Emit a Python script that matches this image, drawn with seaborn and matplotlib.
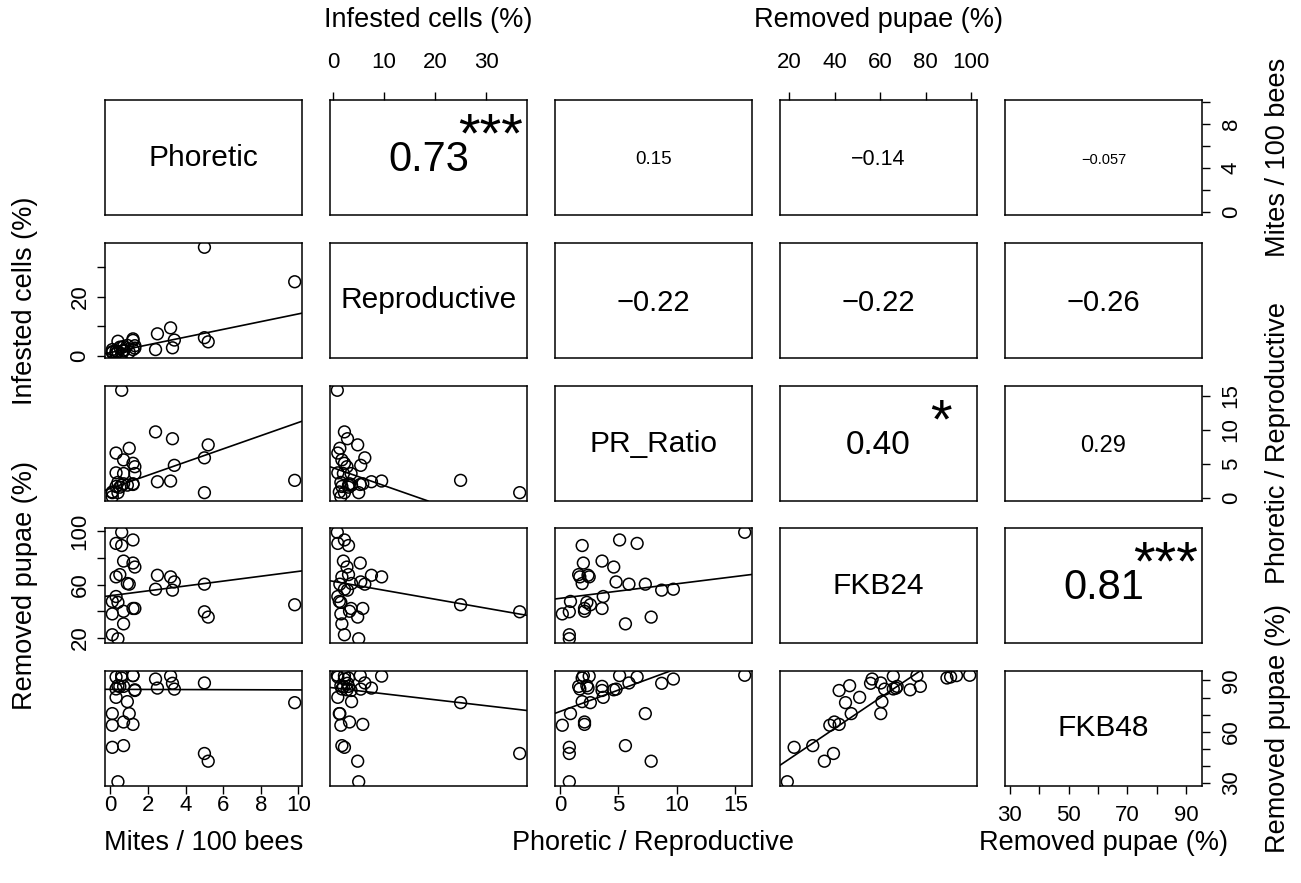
import numpy as np
import pandas as pd
import seaborn as sns
import matplotlib.pyplot as plt

# values (one entry per colony)
mites = [0.6, 9.8, 5.0, 5.2, 5.0, 2.4, 3.3, 3.2, 2.5, 3.4,
         1.2, 0.3, 0.6, 0.7, 1.2, 1.3, 0.5, 0.3, 0.9, 1.0,
         0.3, 0.1, 0.4, 1.2, 1.3, 0.7, 0.1, 0.7, 0.1, 0.4]
infested = [0.8, 25.0, 36.6, 4.8, 6.2, 2.2, 2.8, 9.5, 7.5, 5.4,
            2.2, 0.9, 3.0, 2.0, 5.3, 2.7, 3.0, 1.7, 3.6, 1.3,
            0.9, 1.2, 1.5, 5.8, 3.5, 3.2, 1.5, 1.7, 2.2, 5.0]
pr_ratio = [15.8, 2.6, 0.8, 7.8, 5.9, 9.7, 8.7, 2.5, 2.4, 4.8,
            5.1, 6.6, 1.9, 3.6, 2.0, 4.6, 1.6, 1.7, 1.9, 7.3,
            3.7, 0.9, 2.3, 2.1, 3.6, 2.1, 0.2, 5.6, 0.8, 0.8]
fkb24 = [99.4, 44.8, 39.5, 35.5, 60.3, 56.5, 55.8, 65.8, 67.0, 62.0,
         93.6, 91.0, 89.4, 77.7, 76.2, 73.2, 67.5, 65.8, 60.8, 60.3,
         51.0, 47.3, 46.6, 42.0, 42.0, 39.9, 37.9, 30.4, 22.2, 19.2]
fkb48 = [93.0, 77.0, 47.3, 42.8, 88.5, 90.8, 88.3, 92.5, 85.5, 84.9,
         92.8, 92.0, 91.4, 86.5, 92.8, 84.5, 86.5, 85.0, 77.6, 70.6,
         80.1, 70.6, 86.9, 64.3, 84.1, 65.7, 63.8, 51.9, 50.9, 30.8]

var_names = ['Phoretic', 'Reproductive', 'PR_Ratio', 'FKB24', 'FKB48']
axis_titles = ['Mites / 100 bees', 'Infested cells (%)', 'Phoretic / Reproductive',
               'Removed pupae (%)', 'Removed pupae (%)']

tick_values = [[0, 2, 4, 6, 8, 10], [0, 10, 20, 30], [0, 5, 10, 15],
               [20, 40, 60, 80, 100], [30, 40, 50, 60, 70, 80, 90]]
xtick_labels = [['0', '2', '4', '6', '8', '10'], ['0', '10', '20', '30'],
                ['0', '5', '10', '15'], ['20', '40', '60', '80', '100'],
                ['30', '', '50', '', '70', '', '90']]
ytick_labels = [['0', '', '4', '', '8', ''], ['0', '', '20', ''],
                ['0', '5', '10', '15'], ['20', '', '60', '', '100'],
                ['30', '', '', '60', '', '', '90']]

# upper panels: (row, col) order (0,1) (0,2) (0,3) (0,4) (1,2) (1,3) (1,4) (2,3) (2,4) (3,4)
cor_labels = ['0.73', '0.15', '\u22120.14', '\u22120.057', '\u22120.22',
              '\u22120.22', '\u22120.26', '0.40', '0.29', '0.81']
cor_stars = ['***', '', '', '', '', '', '', '*', '', '***']
cor_sizes = [30, 13.5, 15.5, 10.5, 21, 21, 21, 24, 17, 30]

df = pd.DataFrame({'Phoretic': mites, 'Reproductive': infested, 'PR_Ratio': pr_ratio,
                   'FKB24': fkb24, 'FKB48': fkb48})


def resistant_line(x, y, iters=1):
    # Tukey resistant line, as R's line()
    x = np.asarray(x, float)
    y = np.asarray(y, float)
    xs = np.sort(x)
    n = len(x)

    def q(p):
        return 0.5 * (xs[int(np.floor((n - 1) * p))] + xs[int(np.ceil((n - 1) * p))])

    left = x <= q(1 / 3)
    right = x >= q(2 / 3)
    x1, x2 = np.median(x[left]), np.median(x[right])
    slope = 0.0
    r = y.copy()
    for _ in range(iters):
        slope += (np.median(r[right]) - np.median(r[left])) / (x2 - x1)
        r = y - slope * x
    return slope, np.median(r)


sns.set_theme(style='white')
plt.rcParams['font.family'] = ['Liberation Sans', 'DejaVu Sans']
plt.rcParams['text.color'] = 'black'
plt.rcParams['axes.labelcolor'] = 'black'
plt.rcParams['xtick.color'] = 'black'
plt.rcParams['ytick.color'] = 'black'

W, H = 1301, 883
fig = plt.figure(figsize=(W / 100, H / 100), dpi=100)

lefts = [105, 330, 555, 780, 1005]
tops = [100, 243, 386, 528, 671]
pw, ph = 197, 115

lims = []
for v in var_names:
    lo, hi = df[v].min(), df[v].max()
    pad = 0.04 * (hi - lo)
    lims.append((lo - pad, hi + pad))

k = 0
for i in range(5):
    for j in range(5):
        ax = fig.add_axes([lefts[j] / W, 1 - (tops[i] + ph) / H, pw / W, ph / H])
        for s in ax.spines.values():
            s.set_visible(True)
            s.set_color('black')
            s.set_linewidth(1.1)

        if i > j:
            x, y = df[var_names[j]], df[var_names[i]]
            sns.scatterplot(x=x, y=y, ax=ax, marker='o', s=72, facecolor='none',
                            edgecolor='black', linewidth=1.1)
            slope, icpt = resistant_line(x, y)
            ax.axline((0, icpt), slope=slope, color='black', lw=1.2)
        elif i == j:
            ax.text(0.5, 0.5, var_names[i], transform=ax.transAxes, ha='center',
                    va='center', fontsize=21.5)
        else:
            ax.text(0.5, 0.48, cor_labels[k], transform=ax.transAxes, ha='center',
                    va='center', fontsize=cor_sizes[k])
            if cor_stars[k]:
                ax.text(0.815, 0.90, cor_stars[k], transform=ax.transAxes, ha='center',
                        va='top', fontsize=40)
            k += 1

        ax.set_xlim(lims[j])
        ax.set_ylim(lims[i])
        ax.set_xlabel('')
        ax.set_ylabel('')
        ax.set_xticks(tick_values[j])
        ax.set_yticks(tick_values[i])
        ax.tick_params(direction='out', length=5.5, width=1.0, color='black',
                       labelsize=16, labelcolor='black', pad=1,
                       bottom=False, top=False, left=False, right=False,
                       labelbottom=False, labeltop=False, labelleft=False, labelright=False)

        # outer axes alternate sides like R's pairs()
        if i == 4 and j % 2 == 0:
            ax.tick_params(bottom=True, labelbottom=True)
            ax.set_xticklabels(xtick_labels[j])
        if i == 0 and j % 2 == 1:
            ax.tick_params(top=True, labeltop=True, pad=14)
            ax.set_xticklabels(xtick_labels[j])
        if j == 0 and i % 2 == 1:
            ax.tick_params(left=True, labelleft=True, pad=5)
            ax.set_yticklabels(ytick_labels[i], rotation=90, va='center')
        if j == 4 and i % 2 == 0:
            ax.tick_params(right=True, labelright=True, pad=8)
            ax.set_yticklabels(ytick_labels[i], rotation=90, va='center')

# outer axis titles
for j in (0, 2, 4):
    fig.text((lefts[j] + pw / 2) / W, 1 - 843 / H, axis_titles[j], ha='center',
             va='center', fontsize=19.5)
for j in (1, 3):
    fig.text((lefts[j] + pw / 2) / W, 1 - 20 / H, axis_titles[j], ha='center',
             va='center', fontsize=19.5)
for i in (1, 3):
    fig.text(25 / W, 1 - (tops[i] + ph / 2) / H, axis_titles[i], ha='center',
             va='center', rotation=90, fontsize=19.5)
for i in (0, 2, 4):
    fig.text(1278 / W, 1 - (tops[i] + ph / 2) / H, axis_titles[i], ha='center',
             va='center', rotation=90, fontsize=19.5)

fig.savefig('out.png', dpi=100, facecolor='white')
